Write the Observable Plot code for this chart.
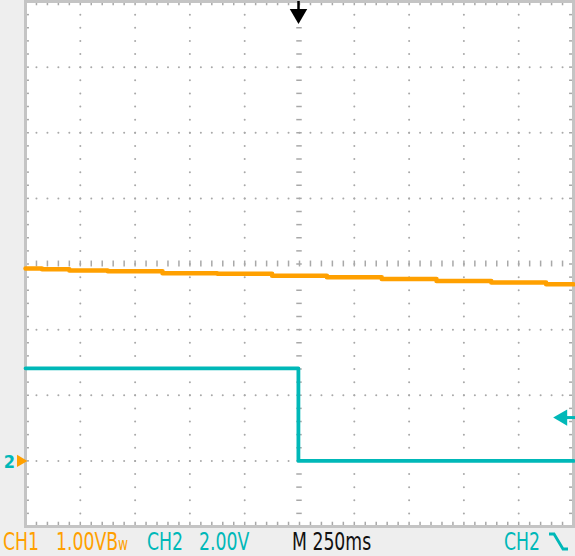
<!DOCTYPE html>
<html>
<head>
<meta charset="utf-8">
<script src="https://cdn.jsdelivr.net/npm/d3@7"></script>
<script src="https://cdn.jsdelivr.net/npm/@observablehq/plot@0.6"></script>
<style>
  html, body { margin: 0; padding: 0; background: #eeeeee; }
  #scope { position: relative; width: 575px; height: 556px; overflow: hidden; background: #eeeeee; }
  #scope svg { display: block; }
  .lbl { position: absolute; top: 529.5px; line-height: 24px; font-size: 24px;
         font-family: "DejaVu Sans Condensed", "Liberation Sans Narrow", sans-serif;
         white-space: nowrap; display: inline-block; transform: scaleX(0.8); transform-origin: 0 0; }
  .bw { font-size: 17px; }
</style>
</head>
<body>
<div id="scope"></div>
<script>
// ---- Data ----
// CH1 (orange), volts, sampled across the screen (time in seconds, trigger at 0)
const ch1Time  = [-1.25, -1.1, -1.0, -0.75, -0.5, -0.25, 0, 0.25, 0.5, 0.75, 1.0, 1.25];
const ch1Volts = [2.93, 2.92, 2.90, 2.89, 2.86, 2.85, 2.82, 2.80, 2.77, 2.74, 2.72, 2.69];
// CH2 (cyan), volts: falling edge near the trigger point
const ch2Time  = [-1.25, -0.005, -0.005, 1.25];
const ch2Volts = [2.82, 2.82, 0.0, 0.0];

// Scope settings
const ch1VoltsPerDiv = 1.0;
const ch2VoltsPerDiv = 2.0;
const secondsPerDiv = 0.25;
const groundDiv = 0;          // both channel ground markers
const triggerTime = 0;
const triggerLevelVolts = 1.32; // CH2
const xDivCount = 10, yDivCount = 8;
const yDivMin = -1;

// Label texts
const labelTexts = ["CH1", "1.00V", "CH2", "2.00V", "M 250ms", "CH2"];

// ---- Colors ----
const orange = "#ffa000";
const cyan = "#00b8b8";
const gridGray = "#a8a8a8";

// ---- Graticule geometry (divisions) ----
const xMin = -secondsPerDiv * xDivCount / 2, xMax = secondsPerDiv * xDivCount / 2;
const yMin = yDivMin, yMax = yDivMin + yDivCount;
const yCenter = (yMin + yMax) / 2;
const xMinorStep = secondsPerDiv / 5, yMinorStep = 0.2;
const xMinors = d3.range(1, xDivCount * 5).map(i => xMin + i * xMinorStep);
const yMinors = d3.range(1, yDivCount * 5).map(j => yMin + j * yMinorStep);
const xMajors = d3.range(1, xDivCount).map(k => xMin + k * secondsPerDiv).filter(v => Math.abs(v) > 1e-9);
const yMajors = d3.range(1, yDivCount).map(k => yMin + k).filter(v => Math.abs(v - yCenter) > 1e-9);

const gridDots = [];
for (const x of xMajors) for (const y of yMinors) gridDots.push({x, y});
for (const y of yMajors) for (const x of xMinors) gridDots.push({x, y});

const ch1 = ch1Time.map((t, i) => ({t, d: groundDiv + ch1Volts[i] / ch1VoltsPerDiv}));
const ch2 = ch2Time.map((t, i) => ({t, d: groundDiv + ch2Volts[i] / ch2VoltsPerDiv}));
const trigDiv = groundDiv + triggerLevelVolts / ch2VoltsPerDiv;

const tickLenX = 0.018;  // ~4px
const tickLenY = 0.065;  // ~4px

const chart = Plot.plot({
  width: 575, height: 527,
  marginLeft: 25, marginRight: 2, marginTop: 1, marginBottom: 1,
  x: {domain: [xMin, xMax], axis: null},
  y: {domain: [yMin, yMax], axis: null},
  style: {background: "transparent", overflow: "visible"},
  marks: [
    Plot.frame({fill: "white", stroke: "none"}),
    // dotted graticule
    Plot.dot(gridDots, {x: "x", y: "y", r: 1, fill: gridGray, stroke: "none"}),
    // center cross with minor dashes
    Plot.ruleY(yMinors, {x1: -0.0125, x2: 0.0125, stroke: gridGray, strokeWidth: 1.5}),
    Plot.ruleX(xMinors, {y1: yCenter - 0.045, y2: yCenter + 0.045, stroke: gridGray, strokeWidth: 1.5}),
    // border ticks
    Plot.ruleX(xMinors, {y1: yMax, y2: yMax - tickLenY, stroke: gridGray, strokeWidth: 1.5}),
    Plot.ruleX(xMinors, {y1: yMin, y2: yMin + tickLenY, stroke: gridGray, strokeWidth: 1.5}),
    Plot.ruleY(yMinors, {x1: xMin, x2: xMin + tickLenX, stroke: gridGray, strokeWidth: 1.5}),
    Plot.ruleY(yMinors, {x1: xMax, x2: xMax - tickLenX, stroke: gridGray, strokeWidth: 1.5}),
    Plot.frame({stroke: "#c4c4c4", strokeWidth: 3}),
    // traces
    Plot.line(ch1, {x: "t", y: "d", stroke: orange, strokeWidth: 4.5, curve: "step"}),
    Plot.line(ch2, {x: "t", y: "d", stroke: cyan, strokeWidth: 3.8}),
    // trigger position marker (top)
    Plot.ruleX([triggerTime], {y1: yMax, y2: yMax - 0.16, dx: -1, stroke: "black", strokeWidth: 2.5}),
    Plot.dot([triggerTime], {x: d => d, y: yMax - 0.19, dx: -1, symbol: "triangle", rotate: 180, r: 6.5, fill: "black", stroke: "none"}),
    // trigger level marker (right)
    Plot.ruleY([trigDiv], {x1: xMax - 0.045, x2: xMax + 0.01, stroke: cyan, strokeWidth: 3}),
    Plot.dot([trigDiv], {x: xMax, y: d => d, dx: -11, symbol: "triangle", rotate: -90, r: 6, fill: cyan, stroke: "none"}),
    // ground markers (left)
    Plot.text([groundDiv], {x: xMin, y: d => d, dx: -16, dy: 1, text: () => "2", fill: cyan, fontSize: 18, fontWeight: "bold", fontFamily: "DejaVu Sans Condensed"}),
    Plot.dot([groundDiv], {x: xMin, y: d => d, dx: -5, symbol: "triangle", rotate: 90, r: 4.5, fill: orange, stroke: "none"}),
    Plot.ruleY([groundDiv], {x1: xMin, x2: xMin, dx: -10, stroke: orange, strokeWidth: 2})
  ]
});
const scope = document.getElementById("scope");
scope.appendChild(chart);

// Bottom status line
function addLabel(text, left, color, extra) {
  const s = document.createElement("span");
  s.className = "lbl";
  s.style.left = left + "px";
  s.style.color = color;
  s.textContent = text;
  if (extra) s.appendChild(extra);
  scope.appendChild(s);
  return s;
}
addLabel(labelTexts[0], 3, orange);
const bw = document.createElement("span");
bw.textContent = "B";
const w = document.createElement("span");
w.className = "bw"; w.textContent = "w";
bw.appendChild(w);
addLabel(labelTexts[1], 56, orange, bw);
addLabel(labelTexts[2], 147, cyan);
addLabel(labelTexts[3], 199, cyan);
addLabel(labelTexts[4], 292, "#111");
addLabel(labelTexts[5], 504, cyan);
// falling-edge slope icon
const ns = "http://www.w3.org/2000/svg";
const icon = document.createElementNS(ns, "svg");
icon.setAttribute("width", 24); icon.setAttribute("height", 24);
icon.style.position = "absolute"; icon.style.left = "547px"; icon.style.top = "530px";
const pl = document.createElementNS(ns, "polyline");
pl.setAttribute("points", "2,4 7,4 16,19 21,19");
pl.setAttribute("fill", "none"); pl.setAttribute("stroke", cyan); pl.setAttribute("stroke-width", "2.8");
icon.appendChild(pl);
scope.appendChild(icon);
</script>
</body>
</html>
